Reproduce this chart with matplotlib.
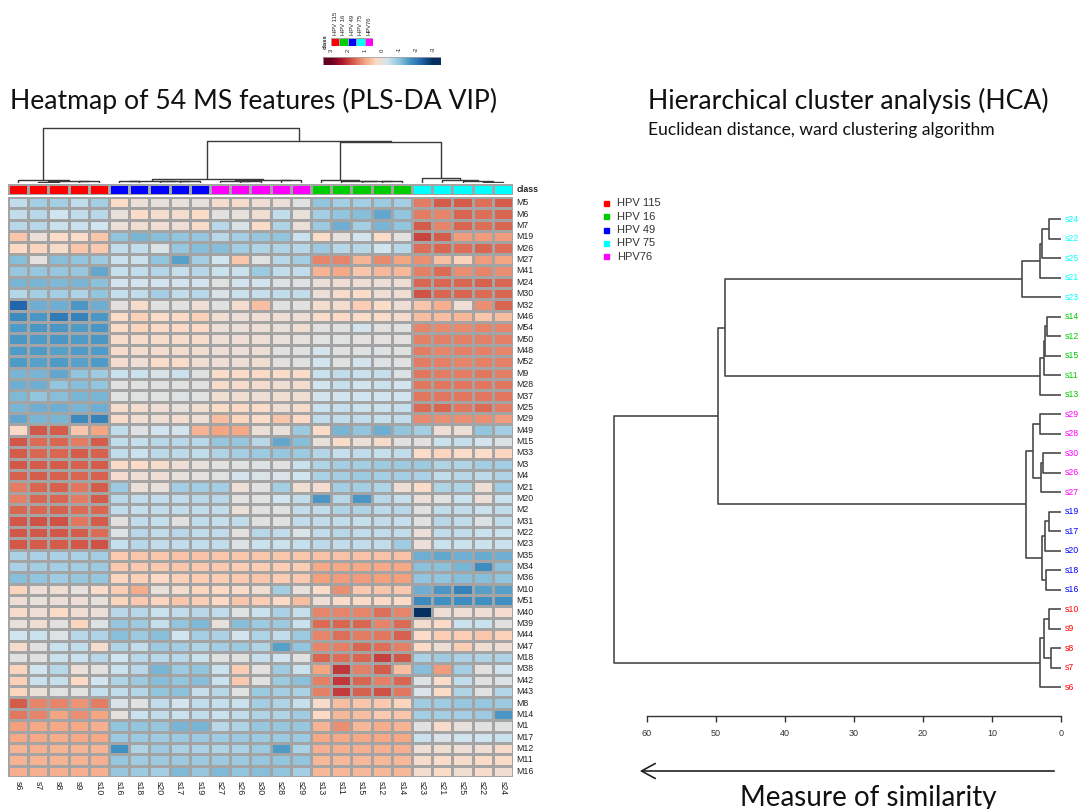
import numpy as np
import matplotlib
matplotlib.use("Agg")
import matplotlib.pyplot as plt
from matplotlib.colors import LinearSegmentedColormap, Normalize, ListedColormap
from matplotlib.patches import Rectangle, FancyArrowPatch

# ---------------- data ----------------
features = ['M5', 'M6', 'M7', 'M19', 'M26', 'M27', 'M41', 'M24', 'M30', 'M32',
            'M46', 'M54', 'M50', 'M48', 'M52', 'M9', 'M28', 'M37', 'M25', 'M29',
            'M49', 'M15', 'M33', 'M3', 'M4', 'M21', 'M20', 'M2', 'M31', 'M22',
            'M23', 'M35', 'M34', 'M36', 'M10', 'M51', 'M40', 'M39', 'M44', 'M47',
            'M18', 'M38', 'M42', 'M43', 'M8', 'M14', 'M1', 'M17', 'M12', 'M11', 'M16']

class_names = ['HPV 115', 'HPV 16', 'HPV 49', 'HPV 75', 'HPV76']
class_colors = ['#FF0000', '#00CD00', '#0000FF', '#00FFFF', '#FF00FF']

samples_hpv115 = ['s6', 's7', 's8', 's9', 's10']
samples_hpv49 = ['s16', 's18', 's20', 's17', 's19']
samples_hpv76 = ['s27', 's26', 's30', 's28', 's29']
samples_hpv16 = ['s13', 's11', 's15', 's12', 's14']
samples_hpv75 = ['s23', 's21', 's25', 's22', 's24']

# scaled intensities (rows = features, columns = samples of each class)
vals_hpv115 = [
    [-0.5, -0.8, -0.8, -0.5, -0.8], [-0.5, -0.6, -0.35, -0.5, -0.6], [-0.6, -0.6, -0.4, -0.4, -0.35],
    [0.6, 0.05, 0.3, 0.3, 0.6], [0.35, 0.4, 0.25, 0.6, 0.55], [-1.1, -0.05, -1.1, -1.0, -0.9],
    [-0.95, -0.95, -0.95, -0.95, -1.4], [-1.2, -1.2, -1.15, -1.2, -1.05], [-0.65, -0.8, -0.8, -0.7, -1.0],
    [-2.3, -1.3, -1.3, -1.6, -1.3], [-1.8, -1.6, -2.0, -1.9, -1.6], [-1.55, -1.6, -1.6, -1.55, -1.6],
    [-1.6, -1.55, -1.6, -1.55, -1.6], [-1.55, -1.55, -1.5, -1.55, -1.55], [-1.55, -1.5, -1.55, -1.5, -1.55],
    [-1.2, -1.2, -1.4, -1.0, -0.85], [-1.3, -1.3, -1.0, -1.1, -1.0], [-1.15, -1.0, -1.1, -1.2, -1.2],
    [-1.2, -1.3, -1.3, -1.2, -1.3], [-1.4, -1.2, -1.2, -1.8, -1.9], [0.35, 1.75, 1.7, 0.6, 1.0],
    [1.75, 1.55, 1.6, 1.4, 1.7], [1.7, 1.6, 1.6, 1.7, 1.65], [1.75, 1.7, 1.7, 1.65, 1.7],
    [1.65, 1.7, 1.65, 1.6, 1.65], [1.4, 1.6, 1.65, 1.45, 1.7], [1.35, 1.6, 1.6, 1.4, 1.7],
    [1.6, 1.6, 1.65, 1.55, 1.6], [1.75, 1.8, 1.8, 1.45, 1.7], [1.75, 1.75, 1.75, 1.7, 1.55],
    [1.75, 1.7, 1.7, 1.75, 1.8], [-0.75, -0.75, -0.75, -0.75, -0.8], [-0.75, -0.8, -0.8, -0.8, -0.9],
    [-1.1, -1.0, -0.85, -0.95, -0.95], [0.4, 0.1, 0.15, 0.0, 0.3], [0.1, 0.0, 0.05, 0.1, 0.0],
    [0.25, 0.1, 0.3, 0.15, 0.05], [0.0, 0.15, -0.05, 0.4, -0.15], [-0.35, -0.4, -0.15, -0.6, -0.7],
    [0.25, -0.05, -0.4, -0.5, 0.2], [-0.1, -0.1, -0.4, -0.4, -0.6], [0.4, -0.35, -0.6, 0.05, -0.05],
    [0.45, -0.4, -0.45, 0.35, -0.35], [0.4, 0.05, -0.1, -0.05, -0.45], [1.7, 1.3, 1.3, 1.15, 1.4],
    [1.45, 1.3, 1.0, 1.2, 1.0], [1.05, 0.95, 0.95, 0.95, 0.85], [0.95, 0.95, 0.9, 0.95, 0.95],
    [0.8, 0.85, 0.8, 0.8, 0.8], [0.8, 0.8, 0.8, 0.8, 0.85], [0.85, 0.85, 0.85, 0.85, 0.85],
]
vals_hpv49 = [
    [0.3, 0.05, 0.0, 0.0, 0.0], [0.0, 0.3, 0.2, 0.2, 0.3], [0.05, 0.15, 0.15, 0.1, 0.25],
    [-1.0, -1.2, -1.1, -1.0, -0.95], [-0.5, -0.5, -0.2, -0.95, -1.1], [-0.4, -0.4, -1.0, -1.5, -0.8],
    [-0.45, -0.5, -0.65, -0.45, -0.6], [-0.3, -0.3, -0.3, -0.3, -0.3], [-0.45, -0.5, -0.8, -0.5, -0.6],
    [-0.05, 0.25, -0.1, -0.05, 0.1], [0.3, 0.45, 0.3, 0.35, 0.45], [0.3, 0.4, 0.35, 0.35, 0.35],
    [0.25, 0.25, 0.25, 0.25, 0.25], [0.25, 0.2, 0.2, 0.2, 0.15], [0.2, 0.1, 0.3, 0.3, 0.15],
    [-0.4, -0.4, -0.2, -0.4, -0.1], [-0.1, -0.1, -0.1, -0.1, -0.1], [-0.1, -0.1, -0.1, -0.15, -0.1],
    [0.2, 0.2, 0.1, 0.0, 0.15], [0.25, 0.15, 0.1, 0.2, 0.1], [-0.5, -0.15, -0.35, -0.3, 0.8],
    [-0.5, -0.45, -0.6, -0.6, -0.6], [-0.5, -0.4, -0.55, -0.55, -0.5], [0.3, 0.3, 0.25, 0.1, 0.0],
    [0.2, 0.1, 0.1, 0.0, -0.05], [-0.9, 0.05, 0.0, -0.8, -0.8], [-0.6, -0.5, -0.5, -0.5, -0.6],
    [-0.5, -0.45, -0.5, -0.5, -0.5], [-0.05, -0.5, -0.45, -0.05, -0.5], [-0.15, -0.6, -0.5, -0.6, -0.5],
    [-0.45, -0.6, -0.5, -0.5, -0.5], [0.55, 0.6, 0.6, 0.65, 0.65], [0.55, 0.55, 0.55, 0.6, 0.55],
    [0.4, 0.45, 0.35, 0.45, 0.5], [0.5, 0.9, 0.0, 0.2, 0.4], [0.4, 0.55, 0.4, 0.6, 0.5],
    [-0.6, -0.6, -0.4, -0.5, -0.6], [-0.95, -0.9, -0.45, -1.0, -1.15], [-1.1, -0.9, -1.1, -0.35, -0.8],
    [-0.7, -0.5, -0.9, -0.8, -0.7], [-0.35, -0.6, -0.6, -0.6, -0.4], [-0.4, -0.6, -1.2, -0.9, -1.0],
    [-0.7, -0.9, -1.1, -1.0, -1.1], [-0.5, -0.65, -1.0, -1.05, -0.45], [-0.2, -0.1, -0.5, -0.3, -0.5],
    [0.0, -0.4, -0.5, -0.4, -0.5], [-1.0, -1.0, -0.95, -1.2, -1.2], [-0.9, -0.9, -0.85, -0.9, -0.9],
    [-1.7, -0.7, -0.9, -0.75, -0.75], [-0.95, -0.85, -0.9, -0.9, -0.9], [-0.95, -0.9, -0.8, -1.15, -0.95],
]
vals_hpv76 = [
    [0.2, 0.25, 0.1, 0.05, -0.1], [-0.05, 0.0, 0.15, -0.5, 0.0], [-0.6, -0.2, 0.3, -0.7, 0.05],
    [-0.6, -0.8, -0.95, -1.0, -0.4], [-1.1, -0.8, -0.7, -0.7, -0.6], [-0.35, 0.6, -0.1, -0.6, -0.8],
    [-0.4, -0.4, -0.9, -0.5, -0.5], [-0.1, -0.3, -0.3, -0.15, -0.15], [-0.2, -0.4, -0.45, -0.5, -0.5],
    [-0.1, 0.2, 0.7, -0.1, -0.05], [0.15, 0.05, 0.1, 0.1, 0.1], [0.05, 0.05, 0.1, 0.0, 0.15],
    [0.1, 0.1, 0.1, 0.0, 0.0], [0.1, 0.1, 0.1, -0.05, -0.1], [0.1, 0.1, 0.15, -0.05, -0.1],
    [0.3, 0.3, 0.35, 0.3, 0.3], [0.25, 0.25, 0.2, 0.15, 0.2], [0.15, 0.15, 0.1, 0.15, 0.15],
    [0.3, 0.35, 0.3, 0.1, 0.25], [0.7, 0.4, 0.3, 0.6, 0.35], [1.0, 0.95, 0.05, 0.0, -0.9],
    [-0.95, -0.95, -0.6, -1.4, -1.1], [-0.7, -0.8, -0.9, -0.95, -0.9], [-0.05, -0.1, -0.15, -0.1, -0.4],
    [-0.1, -0.3, -0.2, -0.2, -0.35], [-0.8, 0.1, -0.05, -0.8, 0.15], [-0.6, -0.05, -0.1, -0.35, -0.5],
    [-0.5, 0.05, -0.05, -0.1, -0.5], [-0.45, -0.5, -0.1, -0.1, -0.5], [-0.5, -0.05, -0.6, -0.5, -0.2],
    [-0.5, -0.15, -0.4, -0.4, -0.45], [0.6, 0.6, 0.6, 0.6, 0.6], [0.55, 0.5, 0.5, 0.5, 0.5],
    [0.5, 0.55, 0.6, 0.5, 0.55], [0.35, 0.3, 0.15, -0.8, 0.0], [0.35, 0.6, 0.5, 0.35, 0.7],
    [-0.5, -0.1, -0.4, -0.75, -0.45], [0.0, -1.1, -0.9, -0.9, -0.4], [-0.75, -0.3, -0.7, -0.5, -0.9],
    [-0.8, -0.9, -0.7, -1.5, -1.0], [-0.1, -0.05, -0.45, -0.35, -0.1], [-0.4, 0.5, -0.05, -0.85, -0.4],
    [-0.4, 0.55, -0.05, -0.9, -1.05], [-0.6, -0.1, -0.9, -0.8, -0.75], [-0.45, -0.4, -0.8, -0.7, -0.45],
    [-0.4, -0.5, -0.7, -0.7, -0.85], [-0.6, -0.7, -0.95, -0.95, -0.95], [-0.85, -0.9, -0.9, -0.9, -0.9],
    [-0.7, -0.75, -0.9, -1.55, -0.75], [-0.9, -0.9, -0.95, -1.0, -1.0], [-1.15, -1.0, -1.1, -1.0, -0.8],
]
vals_hpv16 = [
    [-1.0, -0.8, -0.8, -0.9, -0.8], [-0.8, -1.0, -1.1, -1.4, -1.0], [-0.9, -1.3, -0.8, -1.2, -1.0],
    [0.3, 0.0, -0.3, 0.3, -0.05], [-0.9, -0.6, -0.6, -0.35, -0.6], [1.3, 1.3, 0.8, 1.25, 1.0],
    [0.8, 0.95, 0.6, 0.75, 0.75], [0.05, 0.1, 0.1, 0.05, 0.1], [0.05, 0.25, 0.3, 0.1, 0.15],
    [0.2, 0.2, 0.5, 0.3, 0.1], [0.3, 0.35, 0.3, 0.3, 0.2], [-0.05, -0.1, -0.3, -0.05, -0.1],
    [-0.1, -0.1, -0.05, -0.05, -0.05], [-0.3, -0.1, -0.1, -0.15, -0.1], [-0.35, -0.1, -0.3, -0.15, -0.1],
    [-0.4, -0.5, -0.4, -0.45, -0.15], [-0.35, -0.45, -0.35, -0.4, -0.3], [-0.3, -0.35, -0.35, -0.35, -0.35],
    [-0.4, -0.45, -0.4, -0.4, -0.45], [-0.5, -0.5, -0.5, -0.45, -0.5], [0.3, -1.2, -1.0, -1.3, -1.0],
    [0.0, 0.3, 0.05, 0.25, -0.05], [-0.65, -0.45, -0.5, -0.45, -0.5], [-0.7, -0.8, -0.8, -0.9, -0.9],
    [-0.75, -0.8, -0.9, -0.8, -0.8], [0.2, -0.8, -0.8, -0.7, 0.1], [-1.6, -0.6, -1.6, -0.6, -0.45],
    [-0.5, -0.7, -0.7, -0.55, -0.6], [-0.5, -0.5, -0.45, -0.5, -0.45], [-0.5, -0.6, -0.5, -0.5, -0.5],
    [-0.55, -0.5, -0.5, -0.5, -0.85], [0.65, 0.65, 0.65, 0.65, 0.65], [0.95, 0.95, 0.95, 0.95, 0.95],
    [1.05, 1.1, 1.1, 1.05, 1.05], [0.3, 1.2, 0.55, 0.6, 0.55], [0.1, 0.3, 0.3, 0.35, 0.3],
    [1.3, 1.3, 1.3, 1.5, 1.3], [1.55, 1.6, 1.6, 1.3, 1.55], [1.3, 1.5, 1.4, 1.45, 1.65],
    [1.3, 1.35, 1.6, 1.5, 1.35], [1.6, 1.5, 1.6, 1.95, 1.75], [1.0, 2.05, 1.35, 1.7, 0.7],
    [1.35, 2.05, 1.6, 1.35, 1.6], [1.35, 2.0, 1.65, 1.8, 1.45], [0.25, 0.7, 0.6, 0.55, 0.4],
    [0.35, 0.75, 0.7, 0.55, 0.6], [0.8, 1.2, 0.75, 0.9, 0.8], [0.95, 0.95, 0.95, 0.95, 0.95],
    [0.85, 0.85, 0.85, 0.85, 0.85], [0.75, 0.75, 0.75, 0.75, 0.75], [0.75, 0.75, 0.75, 0.75, 0.75],
]
vals_hpv75 = [
    [1.4, 1.7, 1.7, 1.5, 1.7], [1.4, 1.3, 1.6, 1.5, 1.6], [1.7, 1.3, 1.6, 1.5, 1.6],
    [1.9, 1.7, 1.1, 1.1, 1.1], [1.5, 1.6, 1.5, 1.6, 1.5], [1.2, 0.7, 0.45, 1.1, 1.0],
    [1.35, 1.55, 1.2, 1.3, 1.2], [1.6, 1.6, 1.6, 1.65, 1.6], [1.8, 1.6, 1.6, 1.55, 1.6],
    [0.6, 0.85, 0.1, 1.2, 1.6], [0.7, 0.7, 0.75, 0.6, 0.7], [1.3, 1.25, 1.25, 1.3, 1.3],
    [1.35, 1.35, 1.35, 1.35, 1.35], [1.4, 1.3, 1.35, 1.35, 1.3], [1.4, 1.35, 1.3, 1.35, 1.35],
    [1.45, 1.4, 1.4, 1.45, 1.35], [1.45, 1.45, 1.45, 1.45, 1.45], [1.45, 1.45, 1.45, 1.45, 1.45],
    [1.55, 1.6, 1.45, 1.55, 1.4], [1.25, 1.2, 1.2, 1.2, 1.1], [-0.8, 0.1, 0.05, -1.0, -0.8],
    [-0.05, -0.4, -0.45, -0.3, -0.15], [0.3, 0.4, 0.3, 0.3, 0.4], [-0.9, -0.7, -0.7, -0.8, -0.8],
    [-0.75, -0.5, -0.6, -0.55, -0.7], [0.3, -0.7, -0.7, 0.1, -0.8], [0.05, -0.1, -0.4, 0.05, -0.4],
    [-0.1, -0.5, -0.5, -0.4, -0.5], [-0.1, -0.6, -0.5, -0.15, -0.5], [0.05, -0.5, -0.5, -0.4, -0.4],
    [0.05, -0.4, -0.4, -0.4, -0.4], [-1.3, -1.4, -1.3, -1.35, -1.3], [-1.05, -1.05, -1.2, -1.75, -1.05],
    [-1.0, -1.0, -1.1, -1.1, -1.0], [-1.3, -1.6, -1.9, -1.5, -1.5], [-1.8, -1.7, -1.75, -1.7, -1.7],
    [-3.2, 0.1, 0.1, 0.1, 0.2], [0.2, 0.35, -0.4, -0.4, -0.05], [0.3, 0.5, 0.5, 0.6, 0.45],
    [0.35, 0.1, 0.5, 0.15, 0.1], [-0.75, -0.85, -0.75, -0.7, -0.7], [-1.1, 1.1, -0.8, -0.05, -0.35],
    [-0.15, 0.3, -0.5, -0.1, -0.15], [-0.2, 0.3, -0.7, -0.1, -0.65], [-0.85, -0.85, -0.95, -0.95, -0.9],
    [-0.8, -0.8, -0.8, -0.9, -1.6], [-0.1, 0.25, 0.0, -0.05, -0.1], [-0.4, -0.2, -0.35, -0.35, -0.4],
    [0.1, 0.15, 0.1, 0.1, 0.25], [0.25, 0.3, 0.25, 0.3, 0.3], [0.2, 0.3, 0.15, 0.25, 0.15],
]

# ward clustering of the samples: (merge height, left, right)
tree_hpv115 = (3.1, 's6', (2.4, (1.4, 's7', 's8'), (1.8, 's9', 's10')))
tree_hpv49 = (2.7, (2.1, 's16', 's18'), (2.3, 's20', (1.8, 's17', 's19')))
tree_hpv76 = (4.1, (2.9, 's27', (2.6, 's26', 's30')), (3.0, 's28', 's29'))
tree_hpv16 = (3.1, 's13', (2.45, 's11', (2.3, 's15', (2.0, 's12', 's14'))))
tree_hpv75 = (5.7, 's23', (3.1, 's21', (2.8, 's25', (1.7, 's22', 's24'))))
sample_tree = (64.8, tree_hpv115,
               (49.7, (5.1, tree_hpv49, tree_hpv76), (48.6, tree_hpv16, tree_hpv75)))

colorbar_ticks = [3, 2, 1, 0, -1, -2, -3]
distance_ticks = [60, 50, 40, 30, 20, 10, 0]

# ---------------- assemble ----------------
col_samples = samples_hpv115 + samples_hpv49 + samples_hpv76 + samples_hpv16 + samples_hpv75
col_class = ([0] * 5) + ([2] * 5) + ([4] * 5) + ([1] * 5) + ([3] * 5)
matrix = np.hstack([np.array(vals_hpv115), np.array(vals_hpv49), np.array(vals_hpv76),
                    np.array(vals_hpv16), np.array(vals_hpv75)])
sample_color = {s: class_colors[c] for s, c in zip(col_samples, col_class)}

rdbu10 = ['#053061', '#2166AC', '#4393C3', '#92C5DE', '#D1E5F0',
          '#FDDBC7', '#F4A582', '#D6604D', '#B2182B', '#67001F']
cmap = LinearSegmentedColormap.from_list('heat', rdbu10, N=256)
norm = Normalize(vmin=-3, vmax=3)

W, H = 1081, 809
fig = plt.figure(figsize=(W / 100, H / 100), dpi=100)
fig.patch.set_facecolor('white')


def box(x0, y0, x1, y1):
    """Axes from a pixel box measured from the top-left corner."""
    ax = fig.add_axes([x0 / W, 1 - y1 / H, (x1 - x0) / W, (y1 - y0) / H])
    ax.set_axis_off()
    return ax


def dendro(node, pos):
    """Return (position, height, segments) for a nested merge tree."""
    if isinstance(node, str):
        return pos[node], 0.0, []
    h, a, b = node
    pa, ha, sa = dendro(a, pos)
    pb, hb, sb = dendro(b, pos)
    segs = sa + sb + [[(pa, ha), (pa, h), (pb, h), (pb, hb)]]
    return (pa + pb) / 2, h, segs


label_font = 'Liberation Sans'
title_font = 'Lato'

# ---------------- heatmap ----------------
n_rows, n_cols = matrix.shape
ax = box(8, 197, 513, 777)
ax.pcolormesh(np.arange(n_cols + 1), np.arange(n_rows + 1), matrix, cmap=cmap, norm=norm,
              edgecolors='#A4A4A4', linewidth=0.8)
ax.set_xlim(0, n_cols)
ax.set_ylim(n_rows, 0)
for i, f in enumerate(features):
    ax.text(n_cols + 0.17, i + 0.5, f, ha='left', va='center', fontsize=6.3,
            family=label_font, color='#222222', clip_on=False)
for j, s in enumerate(col_samples):
    ax.text(j + 0.5, n_rows + 0.35, s, ha='center', va='top', rotation=270, fontsize=6.3,
            family=label_font, color='#222222', clip_on=False)

# class annotation bar
axc = box(8, 184, 513, 195)
axc.pcolormesh(np.arange(n_cols + 1), [0, 1], np.array([col_class]),
               cmap=ListedColormap(class_colors), vmin=-0.5, vmax=4.5,
               edgecolors='#A4A4A4', linewidth=0.8)
axc.set_xlim(0, n_cols)
axc.set_ylim(0, 1)
axc.text(n_cols + 0.17, 0.5, 'class', ha='left', va='center', fontsize=6.3,
         family=label_font, fontweight='bold', color='#222222', clip_on=False)

# column dendrogram
col_pos = {s: j + 0.5 for j, s in enumerate(col_samples)}
_, root_h, segs = dendro(sample_tree, col_pos)
axd = box(8, 126, 513, 183)
for seg in segs:
    xs, ys = zip(*seg)
    axd.plot(xs, ys, color='#3A3A3A', lw=1.0, solid_capstyle='butt')
axd.set_xlim(0, n_cols)
axd.set_ylim(0, root_h * 57 / 55)

# ---------------- legends at the top ----------------
axl = box(331, 38, 373, 46)
axl.pcolormesh(np.arange(6), [0, 1], np.array([[0, 1, 2, 3, 4]]),
               cmap=ListedColormap(class_colors), vmin=-0.5, vmax=4.5,
               edgecolors='#A4A4A4', linewidth=0.6)
axl.set_xlim(0, 5)
axl.set_ylim(0, 1)
for k, name in enumerate(class_names):
    axl.text(k + 0.5, 1.35, name, rotation=90, ha='center', va='bottom', fontsize=4.2,
             family=label_font, color='#222222', clip_on=False)
axl.text(-0.35, 0.5, 'class', rotation=90, ha='right', va='center', fontsize=4.2,
         family=label_font, fontweight='bold', color='#222222', clip_on=False)

axb = box(323, 57, 441, 65)
grad = np.linspace(3.47, -3.47, 256)[None, :]
axb.imshow(grad, cmap=cmap, norm=norm, aspect='auto', extent=(3.47, -3.47, 0, 1))
axb.set_xlim(3.47, -3.47)
axb.set_ylim(0, 1)
axb.add_patch(Rectangle((3.47, 0), -6.94, 1, fill=False, ec='#A4A4A4', lw=0.6))
for t in colorbar_ticks:
    axb.text(t, 1.6, str(t), rotation=90, ha='center', va='bottom', fontsize=4.2,
             family=label_font, color='#222222', clip_on=False)

# ---------------- titles ----------------
fig.text(10 / W, 1 - 109 / H, 'Heatmap of 54 MS features (PLS-DA VIP)', fontsize=19.2,
         family=title_font, color='#111111', va='baseline')
fig.text(648 / W, 1 - 109 / H, 'Hierarchical cluster analysis (HCA)', fontsize=19.2,
         family=title_font, color='#111111', va='baseline')
fig.text(648 / W, 1 - 135 / H, 'Euclidean distance, ward clustering algorithm', fontsize=12.6,
         family=title_font, color='#111111', va='baseline')

# ---------------- HCA dendrogram ----------------
leaf_pos = {s: float(i) for i, s in enumerate(col_samples)}
_, _, segs_r = dendro(sample_tree, leaf_pos)
axr = box(600, 200, 1061, 700)
for seg in segs_r:
    ys, xs = zip(*seg)
    axr.plot(xs, ys, color='#4A4A4A', lw=1.2, solid_capstyle='butt')
axr.set_xlim(66.76, 0)
axr.set_ylim(-0.667, 24.99)
for s, y in leaf_pos.items():
    axr.text(-0.55, y, s, ha='left', va='center', fontsize=6.3, family=label_font,
             color=sample_color[s], clip_on=False)

# class legend
for k, (name, c) in enumerate(zip(class_names, class_colors)):
    yc = 203 + 13.5 * k
    fig.patches.append(Rectangle((604 / W, 1 - (yc + 2.5) / H), 5 / W, 5 / H,
                                 transform=fig.transFigure, color=c, figure=fig))
    fig.text(617 / W, 1 - yc / H, name, fontsize=8, family=label_font, color='#333333',
             va='center', ha='left')

# distance axis
axa = fig.add_axes([600 / W, 1 - 716 / H, 461 / W, 0.5 / H])
axa.set_xlim(66.76, 0)
axa.set_yticks([])
for side in ('top', 'left', 'right'):
    axa.spines[side].set_visible(False)
axa.spines['bottom'].set_bounds(0, 60)
axa.spines['bottom'].set_color('#333333')
axa.spines['bottom'].set_linewidth(1.0)
axa.patch.set_visible(False)
axa.set_xticks(distance_ticks)
axa.set_xticklabels([str(t) for t in distance_ticks], fontsize=6.5, family=label_font,
                    color='#333333')
axa.tick_params(axis='x', direction='out', length=4, width=1.0, color='#333333', pad=5)

# similarity arrow
fig.patches.append(FancyArrowPatch((1057 / W, 1 - 771 / H), (637 / W, 1 - 771 / H),
                                   transform=fig.transFigure, arrowstyle='->,head_length=0.55,head_width=0.3',
                                   mutation_scale=18, lw=1.2, color='#222222', figure=fig))
fig.text(740 / W, 1 - 806 / H, 'Measure of similarity', fontsize=20, family=title_font,
         color='#111111', va='baseline', ha='left')

fig.savefig('out.png', dpi=100, facecolor='white')
